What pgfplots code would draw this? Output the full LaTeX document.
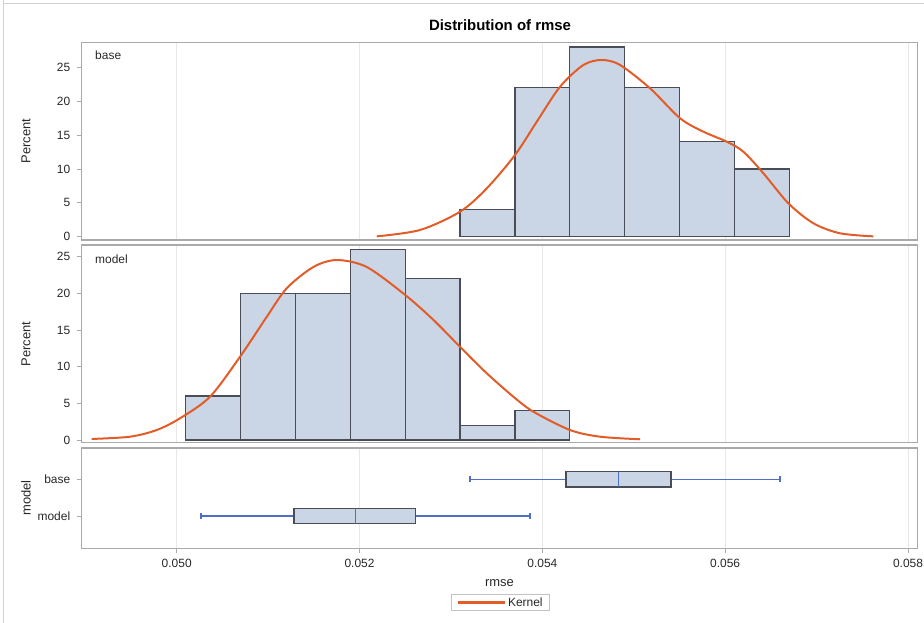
\documentclass[border=0pt]{standalone}
\usepackage{fontspec}
\setmainfont{Liberation Sans}
\usepackage{pgfplots}
\pgfplotsset{compat=1.18}

\definecolor{barfill}{RGB}{202,213,229}
\definecolor{baredge}{RGB}{72,77,87}
\definecolor{kernel}{RGB}{226,92,40}
\definecolor{whisk}{RGB}{78,112,196}
\definecolor{framec}{RGB}{170,170,170}
\definecolor{gridc}{RGB}{232,232,232}
\definecolor{txt}{RGB}{40,40,40}

\pgfplotsset{
  panel/.style={
    scale only axis, width=835.6bp,
    xmin=0.0489607, xmax=0.0581017,
    xtick={0.050,0.052,0.054,0.056,0.058},
    xmajorgrids, major grid style={gridc, line width=0.8bp},
    axis line style={framec, line width=1.3bp},
    tick style={framec, line width=0.8bp},
    tick align=outside, major tick length=5bp,
    xtick pos=bottom, ytick pos=left,
    tick label style={font=\fontsize{12}{14}\selectfont, text=txt},
    yticklabel style={xshift=-3bp},
    /pgf/number format/assume math mode=true,
    scaled x ticks=false,
    xticklabel={\pgfmathprintnumber[fixed, fixed zerofill, precision=3]{\tick}},
  },
  hist/.style={panel, ytick={0,5,...,25},
    xticklabels={}, xtick style={draw=none}},
  bars/.style={ybar interval, fill=barfill, draw=baredge, line width=1.2bp},
  kern/.style={kernel, line width=2bp, smooth, mark=none},
  wsk/.style={forget plot, whisk, line width=1.5bp, mark=none},
  bxs/.style={forget plot, draw=baredge, fill=barfill, line width=1.4bp, mark=none},
}

\begin{document}
\begin{tikzpicture}
\useasboundingbox (0bp,0bp) rectangle (924bp,623bp);
\draw[gray!35, line width=1bp] (3bp,623bp) -- (3bp,0bp);
\draw[gray!35, line width=1bp] (3bp,619.7bp) -- (924bp,619.7bp);

\node[font=\bfseries\fontsize{15}{17}\selectfont, text=black] at (500bp,598bp) {Distribution of rmse};

% base
\begin{axis}[hist, at={(81.7bp,580.3bp)}, anchor=north west, height=197.3bp,
  ymin=-0.487, ymax=28.63]
\addplot[bars] coordinates {
  (0.0531,4)(0.0537,22)(0.0543,28)(0.0549,22)(0.0555,14)(0.0561,10)(0.0567,0)};
\addplot[kern] coordinates {
  (0.052188,0.05)(0.052662,0.99)(0.053100,3.69)(0.053392,7.14)(0.053701,12.06)
  (0.053939,16.97)(0.054194,22.14)(0.054449,25.34)(0.054650,26.08)(0.054850,25.34)
  (0.055178,21.9)(0.055507,17.47)(0.055761,15.5)(0.056018,14.02)(0.056199,12.54)
  (0.056418,9.36)(0.056691,4.93)(0.056965,1.98)(0.057257,0.5)(0.057621,0.05)};
\node[anchor=west, font=\fontsize{12}{14}\selectfont, text=txt] at (rel axis cs:0.012,0.936) {base};
\end{axis}

% model
\begin{axis}[hist, at={(81.7bp,378bp)}, anchor=north west, height=197.7bp,
  ymin=-0.368, ymax=26.6]
\addplot[bars] coordinates {
  (0.0501,6)(0.0507,20)(0.0513,20)(0.0519,26)(0.0525,22)(0.0531,2)(0.0537,4)(0.0543,0)};
\addplot[kern] coordinates {
  (0.049070,0.14)(0.049489,0.45)(0.049781,1.36)(0.050036,2.96)(0.050364,5.9)
  (0.050693,11.36)(0.050985,16.8)(0.051204,20.7)(0.051495,23.6)(0.051751,24.55)
  (0.052079,23.6)(0.052498,19.8)(0.052807,16.4)(0.053100,12.7)(0.053392,9.1)
  (0.053683,5.9)(0.053902,3.86)(0.054303,1.36)(0.054631,0.45)(0.055069,0.1)};
\node[anchor=west, font=\fontsize{12}{14}\selectfont, text=txt] at (rel axis cs:0.012,0.93) {model};
\end{axis}

% box plots: whiskers, caps, boxes, medians
\begin{axis}[panel, at={(81.7bp,175bp)}, anchor=north west, height=100.3bp,
  ymin=-0.88, ymax=1.853, ytick={0,1}, yticklabels={model,base},
  xlabel={rmse},
  every axis x label/.style={at={(axis description cs:0.5,-0.346)}, anchor=center,
    font=\fontsize{13}{15}\selectfont, text=txt},
  xticklabel style={yshift=-2bp},
  legend style={at={(axis description cs:0.5012,-0.54)}, anchor=center,
    draw=framec!70, line width=0.8bp, font=\fontsize{12}{14}\selectfont,
    inner xsep=5bp, inner ysep=0.5bp, nodes={text=txt}},
  legend image code/.code={\draw[#1] (0bp,0bp) -- (47bp,0bp);}]
% base: 0.053206 / 0.054258 / 0.054834 / 0.055406 / 0.056600
\addplot[wsk] coordinates {(0.053206,1)(0.056600,1)};
\addplot[wsk] coordinates {(0.053206,0.915)(0.053206,1.085)};
\addplot[wsk] coordinates {(0.056600,0.915)(0.056600,1.085)};
\addplot[bxs] coordinates {(0.054258,0.7915)(0.055406,0.7915)(0.055406,1.2085)(0.054258,1.2085)} -- cycle;
\addplot[wsk] coordinates {(0.054834,0.7915)(0.054834,1.2085)};
% model: 0.050266 / 0.051285 / 0.051956 / 0.052612 / 0.053865
\addplot[wsk] coordinates {(0.050266,0)(0.053865,0)};
\addplot[wsk] coordinates {(0.050266,-0.085)(0.050266,0.085)};
\addplot[wsk] coordinates {(0.053865,-0.085)(0.053865,0.085)};
\addplot[bxs] coordinates {(0.051285,-0.2085)(0.052612,-0.2085)(0.052612,0.2085)(0.051285,0.2085)} -- cycle;
\addplot[wsk] coordinates {(0.051956,-0.2085)(0.051956,0.2085)};
\addlegendimage{kernel, line width=2.6bp}
\addlegendentry{Kernel}
\end{axis}

\node[rotate=90, font=\fontsize{13}{15}\selectfont, text=txt] at (26bp,482bp) {Percent};
\node[rotate=90, font=\fontsize{13}{15}\selectfont, text=txt] at (26bp,279bp) {Percent};
\node[rotate=90, font=\fontsize{13}{15}\selectfont, text=txt] at (26bp,125bp) {model};
\end{tikzpicture}
\end{document}
